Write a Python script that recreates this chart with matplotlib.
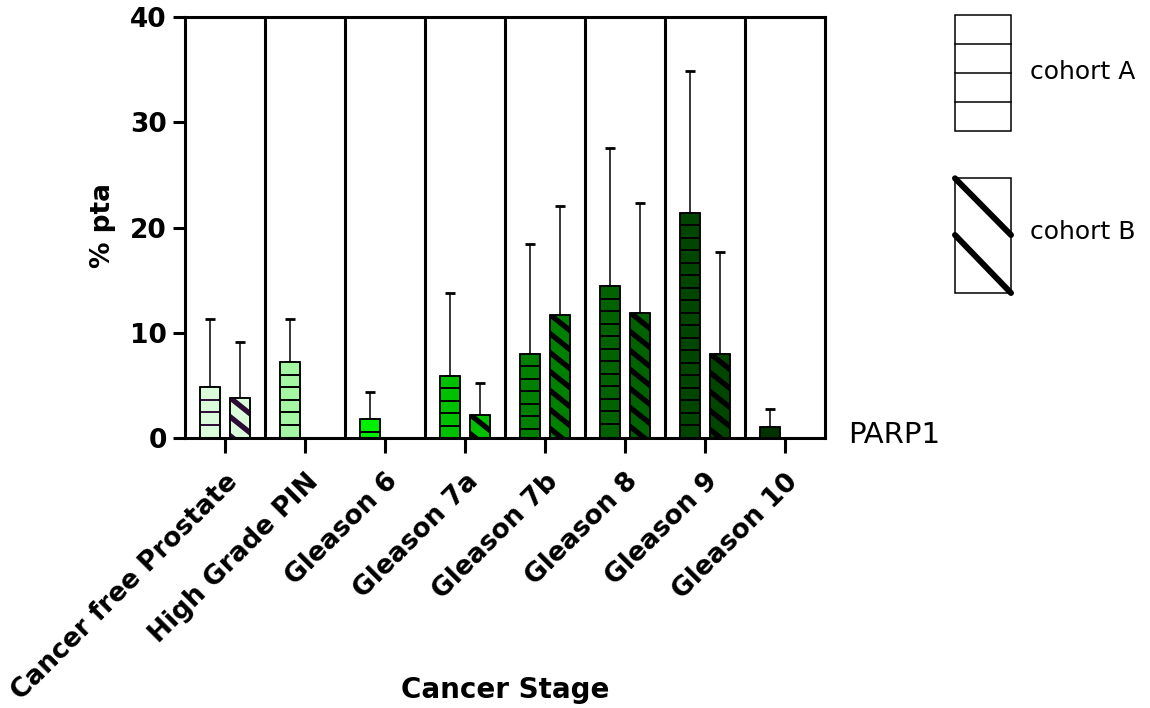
import numpy as np
import matplotlib
matplotlib.use("Agg")
import matplotlib.pyplot as plt
from matplotlib.lines import Line2D
from matplotlib.patches import Rectangle
from matplotlib.transforms import IdentityTransform

# -------------------------
# data
# -------------------------
stages = ["Cancer free Prostate", "High Grade PIN", "Gleason 6", "Gleason 7a",
          "Gleason 7b", "Gleason 8", "Gleason 9", "Gleason 10"]

cohort_a_mean = [4.8, 7.2, 1.8, 5.9, 8.0, 14.4, 21.4, 1.0]
cohort_a_sd = [6.5, 4.1, 2.6, 7.9, 10.4, 13.2, 13.5, 1.8]

cohort_b_mean = [3.8, np.nan, np.nan, 2.2, 11.7, 11.9, 8.0, np.nan]
cohort_b_sd = [5.3, np.nan, np.nan, 3.0, 10.3, 10.4, 9.7, np.nan]

stage_colors = ["#dafcda", "#a3f7a3", "#00ee00", "#00c000",
                "#008000", "#006200", "#004600", "#003300"]
hatch_colors = ["#2d0a36"] + ["black"] * 7

y_ticks = [0, 10, 20, 30, 40]

W, H = 1150, 708
DPI = 100

fig = plt.figure(figsize=(W / DPI, H / DPI), dpi=DPI)
ax = fig.add_axes([185 / W, (H - 438) / H, 640 / W, 421 / H])

x = np.arange(len(stages))
offset = 0.1875
bar_w = 0.24

bars_a = ax.bar(x - offset, cohort_a_mean, width=bar_w, color=stage_colors,
                edgecolor="black", linewidth=1.1, zorder=3)
bars_b = ax.bar(x + offset, cohort_b_mean, width=bar_w, color=stage_colors,
                edgecolor="black", linewidth=1.1, zorder=3)

# upward-only error bars
ax.errorbar(x - offset, cohort_a_mean,
            yerr=[np.zeros(len(x)), cohort_a_sd],
            fmt="none", ecolor="black", elinewidth=1.1, capsize=3.3,
            capthick=2.0, zorder=2)
ax.errorbar(x + offset, cohort_b_mean,
            yerr=[np.zeros(len(x)), cohort_b_sd],
            fmt="none", ecolor="black", elinewidth=1.1, capsize=3.3,
            capthick=2.0, zorder=2)

ax.set_xlim(-0.5, len(stages) - 0.5)
ax.set_ylim(0, 40)

# separators between the stages
for i in range(len(stages) - 1):
    ax.axvline(i + 0.5, color="black", linewidth=2.2, zorder=1)

# -------------------------
# hand-made hatching (pixel space, so it matches the original pattern)
# -------------------------
H_STEP = 12.5     # spacing of the horizontal lines (px)
D_STEP = 19.0     # vertical spacing of the diagonal stripes (px)
D_SLOPE = 0.8     # drop per px to the right


def add_clipped(line, patch):
    ax.add_line(line)
    line.set_clip_path(patch)   # after add_line, otherwise the axes clip wins


def hatch_horizontal(patch, color):
    bb = patch.get_window_extent()
    if not np.isfinite(bb.height) or bb.height <= 0:
        return
    y = bb.y1 - H_STEP
    while y > bb.y0 + 3:
        ln = Line2D([bb.x0, bb.x1], [y, y], transform=IdentityTransform(),
                    color=color, linewidth=1.4, zorder=4)
        add_clipped(ln, patch)
        y -= H_STEP


def hatch_diagonal(patch, color):
    bb = patch.get_window_extent()
    if not np.isfinite(bb.height) or bb.height <= 0:
        return
    w = bb.x1 - bb.x0
    n = int(bb.height / D_STEP) + 2
    for k in range(-2, n):
        ys = bb.y1 - k * D_STEP
        xa, xb = bb.x0 - 10, bb.x1 + 10
        ln = Line2D([xa, xb], [ys + 10 * D_SLOPE, ys - (w + 10) * D_SLOPE],
                    transform=IdentityTransform(), color=color,
                    linewidth=3.8, solid_capstyle="butt", zorder=4)
        add_clipped(ln, patch)


for p, c in zip(bars_a.patches, hatch_colors):
    hatch_horizontal(p, c)
for p, c in zip(bars_b.patches, hatch_colors):
    hatch_diagonal(p, c)

# redraw bar outlines on top of the hatching
ax.bar(x - offset, cohort_a_mean, width=bar_w, fill=False,
       edgecolor="black", linewidth=1.1, zorder=4.5)
ax.bar(x + offset, cohort_b_mean, width=bar_w, fill=False,
       edgecolor="black", linewidth=1.1, zorder=4.5)

# -------------------------
# axes styling
# -------------------------
for s in ax.spines.values():
    s.set_linewidth(2.2)
    s.set_zorder(5)

ax.set_yticks(y_ticks)
ax.set_yticklabels([str(t) for t in y_ticks], fontsize=19, fontweight="bold")
ax.set_xticks(x)
ax.set_xticklabels(stages, fontsize=19, fontweight="bold", rotation=45,
                   ha="right", va="top", rotation_mode="anchor")
ax.tick_params(axis="y", direction="out", length=9, width=2.2, pad=4)
ax.tick_params(axis="x", direction="out", length=11, width=2.2, pad=11)

ax.text((848 - 185) / 640, -5 / 421, "PARP1", transform=ax.transAxes,
        fontsize=21, ha="left", va="baseline")

fig.text(103 / W, 1 - 225 / H, "% pta", rotation=90, fontsize=19,
         fontweight="bold", ha="center", va="center")
fig.text(505 / W, 1 - 690 / H, "Cancer Stage", fontsize=20,
         fontweight="bold", ha="center", va="center")


# -------------------------
# legend, drawn by hand on the right
# -------------------------
def fx(px):
    return px / W


def fy(py):
    return 1 - py / H


leg_x0, leg_x1 = 955, 1011

box_a = Rectangle((fx(leg_x0), fy(130.7)), fx(leg_x1) - fx(leg_x0),
                  fy(15) - fy(130.7), transform=fig.transFigure,
                  facecolor="white", edgecolor="black", linewidth=1.1)
fig.add_artist(box_a)
for yy in [44, 72.7, 101.7]:
    fig.add_artist(Line2D([fx(leg_x0), fx(leg_x1)], [fy(yy), fy(yy)],
                          transform=fig.transFigure, color="black",
                          linewidth=1.1))

box_b = Rectangle((fx(leg_x0), fy(293.3)), fx(leg_x1) - fx(leg_x0),
                  fy(177.7) - fy(293.3), transform=fig.transFigure,
                  facecolor="white", edgecolor="black", linewidth=1.1)
fig.add_artist(box_b)
for ya, yb in [(178.3, 235), (235, 293)]:
    fig.add_artist(Line2D([fx(leg_x0), fx(leg_x1)], [fy(ya), fy(yb)],
                          transform=fig.transFigure, color="black",
                          linewidth=4.3, solid_capstyle="round"))

fig.text(fx(1030), fy(72), "cohort A", fontsize=18, ha="left", va="center")
fig.text(fx(1030), fy(232), "cohort B", fontsize=18, ha="left", va="center")

fig.savefig("out.png", dpi=DPI)
